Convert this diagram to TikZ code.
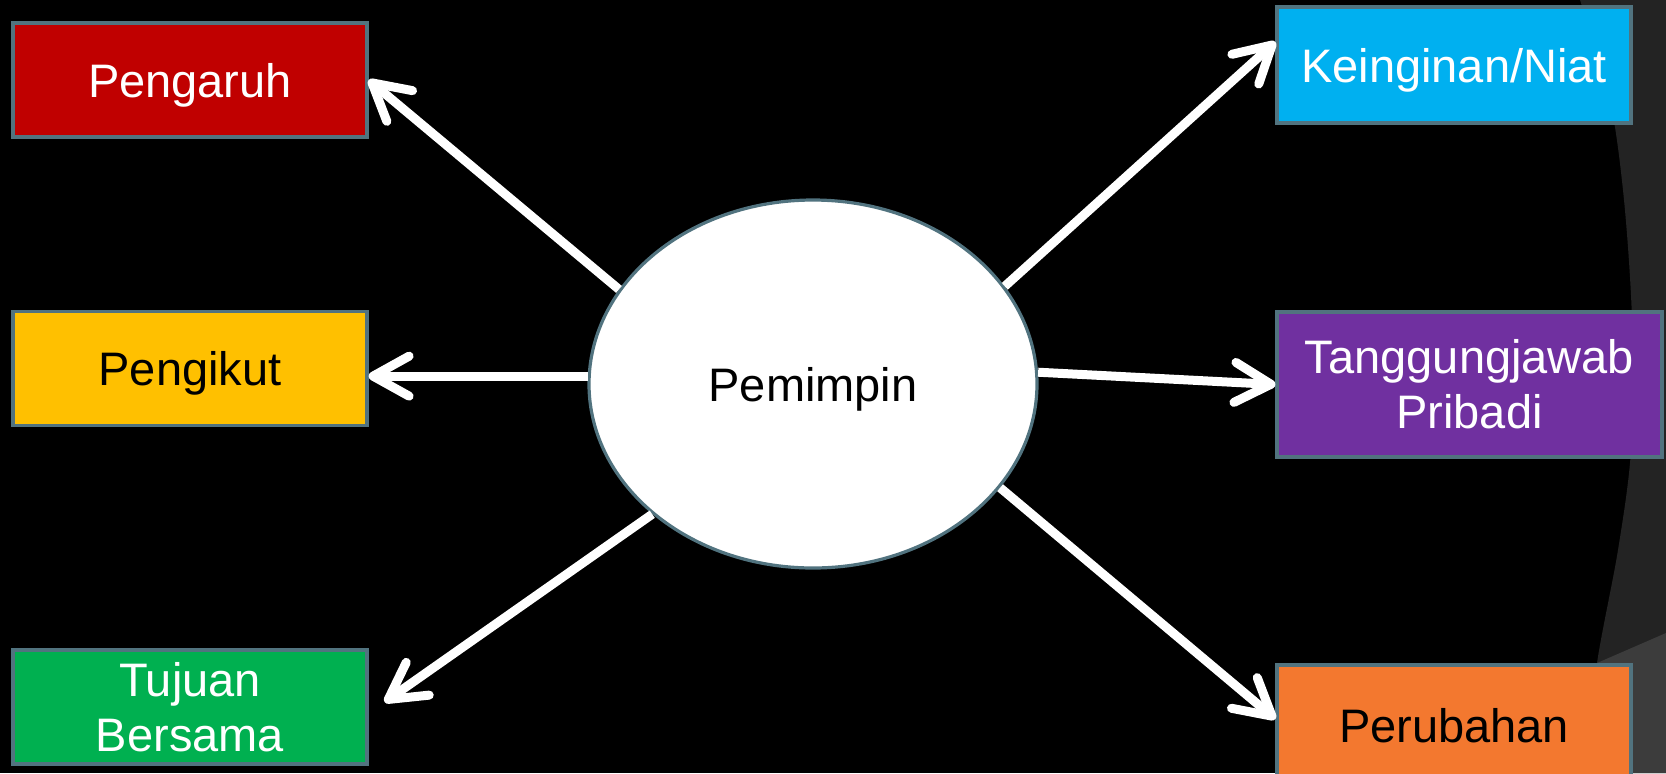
\documentclass[tikz,border=0pt]{standalone}
\usepackage{fontspec}
\setmainfont{Liberation Sans}
\usepackage{tikz}
\usetikzlibrary{shapes.geometric,arrows.meta,calc}
\definecolor{edgegrey}{HTML}{51737F}
\definecolor{bgdark}{HTML}{232323}
\definecolor{bglight}{HTML}{3C3C3C}
\definecolor{redbox}{HTML}{C00000}
\definecolor{goldbox}{HTML}{FFC000}
\definecolor{greenbox}{HTML}{00B050}
\definecolor{cyanbox}{HTML}{00B0F0}
\definecolor{purplebox}{HTML}{7030A0}
\definecolor{orangebox}{HTML}{F3782F}

\begin{document}
\begin{tikzpicture}[x=0.5pt,y=-0.5pt,
  label font/.style={font=\fontsize{23.5}{27.5}\selectfont},
  box/.style={draw=edgegrey,line width=1.6pt,minimum width=177pt,minimum height=57pt,inner sep=0pt,align=center,label font},
  oneline/.style={text depth=0pt},
  link/.style={white,line width=4.5pt,-{Straight Barb[length=18pt,width=20pt,round]}}]
\useasboundingbox (0,0) rectangle (1666,773);
\clip (0,0) rectangle (1666,773);
\fill[black] (0,0) rectangle (1666,773);
\fill[bgdark] plot[smooth] coordinates {(1580,0) (1610,100) (1624,200) (1632,320) (1631,450) (1618,550) (1597,663) (1585,773)} -- (1666,773) -- (1666,0) -- cycle;
\fill[bglight] (1597,663) -- (1666,633) -- (1666,773) -- (1585,773) -- cycle;
\node[box,oneline,fill=redbox,text=white] (pengaruh) at (190,80) {Pengaruh};
\node[box,oneline,fill=goldbox] (pengikut) at (190,368.5) {Pengikut};
\node[box,fill=greenbox,text=white] (tujuan) at (190,707) {Tujuan\\Bersama};
\node[box,oneline,fill=cyanbox,text=white,minimum height=58pt] (keinginan) at (1454,65) {Keinginan/Niat};
\node[box,fill=purplebox,text=white,minimum width=192.5pt,minimum height=72.5pt] (tanggungjawab) at (1469.5,384.5) {Tanggungjawab\\Pribadi};
\node[box,fill=orangebox,minimum height=61pt] (perubahan) at (1454,726) {Perubahan};
\node[ellipse,oneline,draw=edgegrey,line width=1.6pt,fill=white,minimum width=224pt,minimum height=184pt,label font] (pemimpin) at (813,384) {Pemimpin};
\draw[link] (pemimpin.154) -- (pengaruh.east);
\draw[link] (pemimpin.178) -- (pemimpin.178 -| pengikut.east);
\draw[link] (pemimpin.219) -- ($(tujuan.east)+(16,-5)$);
\draw[link] (pemimpin.27) -- ($(keinginan.west)+(0,-23)$);
\draw[link] (pemimpin.3) -- (tanggungjawab.west);
\draw[link] (pemimpin.-29) -- ($(perubahan.west)+(0,-7)$);
\end{tikzpicture}
\end{document}
